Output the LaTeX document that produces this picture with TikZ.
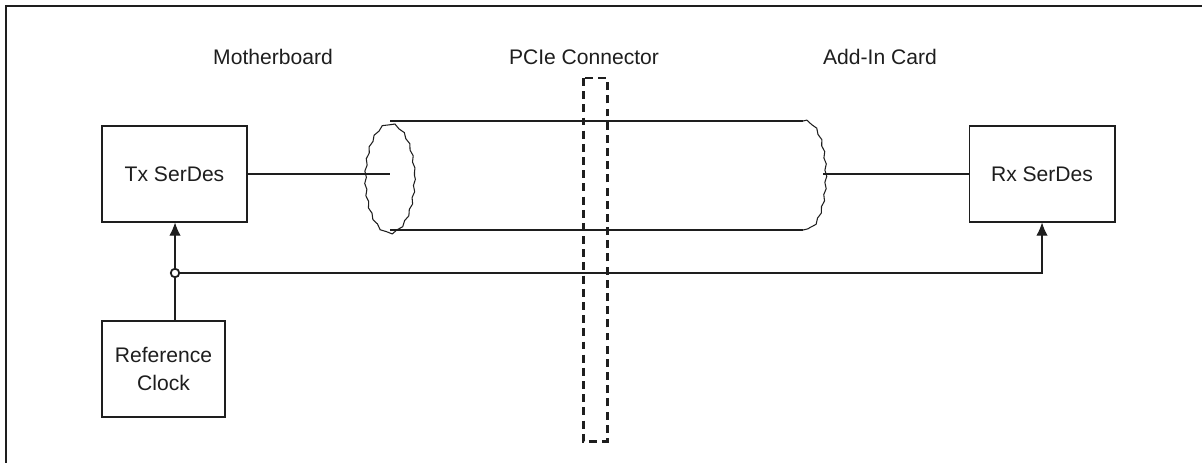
\documentclass[tikz,border=0pt]{standalone}
\usepackage{fontspec}
\setmainfont{Liberation Sans}
\usepackage{tikz}
\usetikzlibrary{arrows.meta,decorations.pathmorphing}
\definecolor{lineblack}{RGB}{30,30,30}

\begin{document}
\begin{tikzpicture}[x=0.02cm, y=-0.02cm, lineblack, line width=0.6pt,
    font=\fontsize{12}{14}\selectfont,
    block/.style={draw, align=center, inner sep=0pt},
    wavy/.style={decorate, decoration={snake, segment length=7pt, amplitude=0.5pt}},
    conn/.style={-{Latex[length=7.5pt, width=6.5pt]}}]
  \useasboundingbox (0,0) rectangle (1202,463);

  % Outer frame
  \draw[line width=0.9pt] (1202,6) -- (6,6) -- (6,463);

  % Region labels
  \node (mb) at (273,57) {Motherboard};
  \node (pcie) at (584,57) {PCIe Connector};
  \node (aic) at (880,57) {Add-In Card};

  % Blocks
  \node[block, minimum width=2.9cm, minimum height=1.92cm] (tx) at (174.5,174) {Tx SerDes};
  \node[block, minimum width=2.92cm, minimum height=1.92cm] (rx) at (1042,174) {Rx SerDes};
  \node[block, minimum width=2.46cm, minimum height=1.92cm] (clk) at (163.5,369) {Reference\\[2pt]Clock};

  % Cable
  \draw (390,121) -- (803,121);
  \draw (390,230) -- (803,230);
  \draw[wavy] (390,175.5) ellipse [x radius=24.5, y radius=54.5];
  \draw[wavy] (803,121) arc [start angle=-90, end angle=90, x radius=20, y radius=54.5];
  \coordinate (cblL) at (390,174);
  \coordinate (cblR) at (823,174);
  \draw (tx.east) -- (cblL);
  \draw (cblR) -- (rx.west);

  % Connector outline
  \draw[line width=1.7pt, dash pattern=on 4.5pt off 3pt] (583,78) rectangle (607,441);

  % Clock distribution
  \coordinate (split) at (175,273);
  \draw (split) -- (split |- clk.north);
  \draw[conn] (split) -- (split |- tx.south);
  \draw[conn] (split) -- (rx.south |- split) -- (rx.south);
  \node[circle, draw, fill=white, inner sep=0pt, minimum size=0.17cm, line width=1pt] (dot) at (split) {};
\end{tikzpicture}
\end{document}
